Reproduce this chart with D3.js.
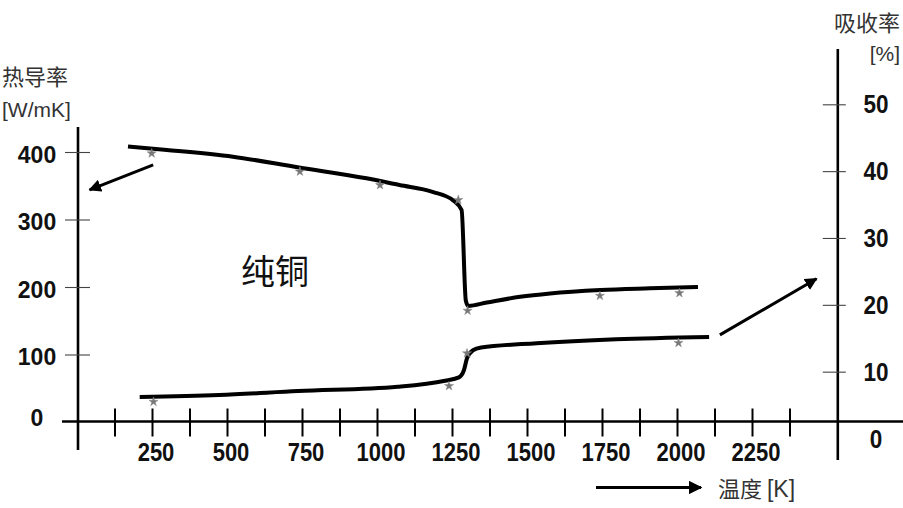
<!DOCTYPE html>
<html><head><meta charset="utf-8">
<script src="https://cdn.jsdelivr.net/npm/d3@7/dist/d3.min.js"></script>
<style>
html,body{margin:0;padding:0;background:#fff;}
svg{display:block;}
</style></head>
<body>
<svg id="c" width="903" height="508"></svg>
<script>
// ---- data ----
const xTickLabels = [250, 500, 750, 1000, 1250, 1500, 1750, 2000, 2250];
const xMinorTicks = [125, 250, 375, 500, 625, 750, 875, 1000, 1125, 1250, 1375, 1500, 1625, 1750, 1875, 2000, 2125, 2250, 2375];
const leftTicks = [0, 100, 200, 300, 400];
const rightTicks = [0, 10, 20, 30, 40, 50];

// thermal conductivity [W/mK] (left axis)
const condT = [170, 300, 520, 740, 965, 1075, 1185, 1255, 1282, 1296, 1304, 1366, 1477, 1577, 1745, 1910, 2070];
const condV = [408, 403, 393, 377, 361, 351, 341, 328, 314, 180, 172, 177, 185.5, 190.5, 195.5, 198, 200];
const condStarT = [249, 743, 1010, 1271, 1302, 1743, 2008];
const condStarV = [398, 371, 351, 329, 165, 187, 191];

// absorptance [%] (right axis)
const absT = [209, 473, 737, 1069, 1227, 1273, 1290, 1300, 1320, 1347, 1532, 1797, 2107];
const absV = [6.2, 6.5, 7.1, 7.75, 8.65, 9.15, 10.25, 12.0, 13.2, 13.6, 14.25, 14.85, 15.2];
const absStarT = [255, 1240, 1300, 2005];
const absStarV = [5.5, 7.85, 12.75, 14.3];

const svg = d3.select("#c");
const x = d3.scaleLinear().domain([0, 2500]).range([77, 827]);
const yL = d3.scaleLinear().domain([0, 400]).range([422, 152]);
const yR = d3.scaleLinear().domain([0, 50]).range([438.5, 104.3]);
const xAxisY = 421.5;
const rightX = x(2536);

const defs = svg.append("defs");
defs.append("marker").attr("id", "ah").attr("viewBox", "0 0 10 10")
  .attr("refX", 9).attr("refY", 5).attr("markerWidth", 4.2).attr("markerHeight", 4.2)
  .attr("markerUnits", "strokeWidth").attr("orient", "auto")
  .append("path").attr("d", "M0,0 L10,5 L0,10 z").attr("fill", "#000");

const numFont = "'Liberation Sans', Arial, sans-serif";
const cjkFont = "'Noto Sans CJK SC', 'Noto Sans', sans-serif";

// ---- x axis ----
svg.append("line").attr("x1", 62).attr("x2", 903).attr("y1", xAxisY).attr("y2", xAxisY)
  .attr("stroke", "#000").attr("stroke-width", 2.7);
const gx = svg.append("g").attr("transform", `translate(0,${xAxisY})`)
  .call(d3.axisBottom(x).tickValues(xMinorTicks).tickSize(15).tickFormat(""));
gx.select(".domain").remove();
gx.selectAll(".tick line").attr("y1", -13).attr("y2", 15).attr("stroke", "#000").attr("stroke-width", 2);

svg.append("g").selectAll("text").data(xTickLabels).join("text")
  .attr("transform", d => `translate(${x(d) + 4},${461}) scale(0.88,1)`)
  .attr("text-anchor", "middle")
  .attr("font-family", numFont).attr("font-weight", "bold").attr("font-size", 25)
  .attr("fill", "#111").text(d => d);

// ---- left axis ----
svg.append("line").attr("x1", x(0) + 1).attr("x2", x(0) + 1).attr("y1", yL(437)).attr("y2", 450)
  .attr("stroke", "#000").attr("stroke-width", 2.6);
const gl = svg.append("g").attr("transform", `translate(${x(0) + 1},0)`)
  .call(d3.axisLeft(yL).tickValues(leftTicks.filter(d => d > 0)).tickSize(13).tickFormat(""));
gl.select(".domain").remove();
gl.selectAll(".tick line").attr("x1", -13).attr("x2", 12).attr("stroke", "#444").attr("stroke-width", 1.1);
svg.append("g").selectAll("text").data(leftTicks).join("text")
  .attr("x", 37).attr("y", d => (d === 0 ? 417.5 : yL(d) + 2.5))
  .attr("dy", "0.36em").attr("text-anchor", "middle")
  .attr("font-family", numFont).attr("font-weight", "bold").attr("font-size", 23)
  .attr("fill", "#111").text(d => d);

// ---- right axis ----
svg.append("line").attr("x1", rightX).attr("x2", rightX).attr("y1", 49).attr("y2", 460)
  .attr("stroke", "#000").attr("stroke-width", 2.6);
const gr = svg.append("g").attr("transform", `translate(${rightX},0)`)
  .call(d3.axisLeft(yR).tickValues(rightTicks.filter(d => d > 0)).tickSize(15).tickFormat(""));
gr.select(".domain").remove();
gr.selectAll(".tick line").attr("x1", -15).attr("x2", 8).attr("stroke", "#444").attr("stroke-width", 1.1);
svg.append("g").selectAll("text").data(rightTicks).join("text")
  .attr("transform", d => `translate(876,${yR(d) + 9}) scale(0.9,1)`)
  .attr("text-anchor", "middle")
  .attr("font-family", numFont).attr("font-weight", "bold").attr("font-size", 25)
  .attr("fill", "#111").text(d => d);

// ---- axis titles ----
svg.append("text").attr("x", 2).attr("y", 85).attr("font-family", cjkFont).attr("font-size", 22)
  .attr("fill", "#333").text("热导率");
svg.append("text").attr("x", 2).attr("y", 117).attr("font-family", numFont).attr("font-size", 21)
  .attr("fill", "#333").text("[W/mK]");
svg.append("text").attr("x", 900).attr("y", 31).attr("text-anchor", "end").attr("font-family", cjkFont).attr("font-size", 22)
  .attr("fill", "#333").text("吸收率");
svg.append("text").attr("x", 900).attr("y", 61).attr("text-anchor", "end").attr("font-family", numFont).attr("font-size", 21)
  .attr("fill", "#333").text("[%]");
const xt = svg.append("text").attr("x", 718).attr("y", 497).attr("font-family", cjkFont).attr("font-size", 22)
  .attr("fill", "#333");
xt.append("tspan").text("温度 ");
xt.append("tspan").attr("font-family", numFont).attr("font-size", 23).text("[K]");

// label
svg.append("text").attr("x", 275).attr("y", 284).attr("text-anchor", "middle")
  .attr("font-family", cjkFont).attr("font-size", 34).attr("fill", "#111").text("纯铜");

// ---- curves ----
const condData = condT.map((t, i) => [t, condV[i]]);
const absData = absT.map((t, i) => [t, absV[i]]);
svg.append("path").datum(condData)
  .attr("d", d3.line().x(d => x(d[0])).y(d => yL(d[1])).curve(d3.curveMonotoneX))
  .attr("fill", "none").attr("stroke", "#000").attr("stroke-width", 4).attr("stroke-linejoin", "round");
svg.append("path").datum(absData)
  .attr("d", d3.line().x(d => x(d[0])).y(d => yR(d[1])).curve(d3.curveMonotoneX))
  .attr("fill", "none").attr("stroke", "#000").attr("stroke-width", 4).attr("stroke-linejoin", "round");

// stars
const star = d3.symbol().type(d3.symbolStar).size(26);
svg.append("g").selectAll("path").data(condStarT.map((t, i) => [t, condStarV[i]])).join("path")
  .attr("transform", d => `translate(${x(d[0])},${yL(d[1])})`).attr("d", star)
  .attr("fill", "#777").attr("stroke", "#888").attr("stroke-width", 0.5);
svg.append("g").selectAll("path").data(absStarT.map((t, i) => [t, absStarV[i]])).join("path")
  .attr("transform", d => `translate(${x(d[0])},${yR(d[1])})`).attr("d", star)
  .attr("fill", "#777").attr("stroke", "#888").attr("stroke-width", 0.5);

// ---- arrows ----
svg.append("line").attr("x1", x(254)).attr("y1", yL(381)).attr("x2", x(42)).attr("y2", yL(344))
  .attr("stroke", "#000").attr("stroke-width", 3).attr("marker-end", "url(#ah)");
svg.append("line").attr("x1", x(2143)).attr("y1", yR(15.5)).attr("x2", x(2465)).attr("y2", yR(23.9))
  .attr("stroke", "#000").attr("stroke-width", 3).attr("marker-end", "url(#ah)");
svg.append("line").attr("x1", x(1730)).attr("y1", 487.5).attr("x2", x(2080)).attr("y2", 487.5)
  .attr("stroke", "#000").attr("stroke-width", 3.2).attr("marker-end", "url(#ah)");
</script>
</body></html>
